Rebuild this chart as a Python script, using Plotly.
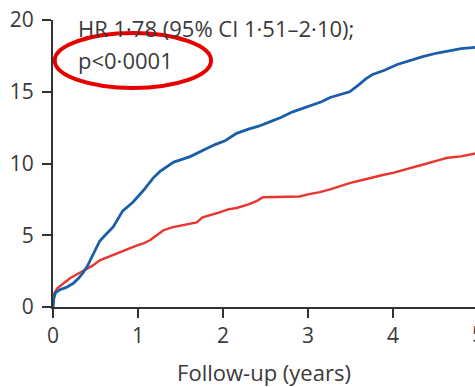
import plotly.graph_objects as go

# Cumulative incidence (%) over follow-up (years)
blue_t = [0, 0.01, 0.03, 0.08, 0.15, 0.24, 0.30, 0.35, 0.40, 0.47, 0.55, 0.63, 0.71, 0.82,
          0.94, 1.06, 1.18, 1.26, 1.34, 1.42, 1.50, 1.62, 1.76, 1.90, 2.03, 2.16, 2.30, 2.42,
          2.55, 2.68, 2.82, 2.94, 3.06, 3.16, 3.26, 3.38, 3.49, 3.60, 3.68, 3.76, 3.90, 4.05,
          4.20, 4.35, 4.52, 4.65, 4.80, 4.97]
blue_v = [0, 0.6, 1.0, 1.2, 1.35, 1.65, 2.0, 2.35, 2.8, 3.6, 4.6, 5.1, 5.6, 6.7,
          7.3, 8.1, 9.0, 9.45, 9.8, 10.1, 10.25, 10.5, 10.9, 11.3, 11.6, 12.1, 12.4, 12.6,
          12.9, 13.2, 13.6, 13.85, 14.1, 14.3, 14.6, 14.8, 15.0, 15.5, 15.9, 16.2, 16.5, 16.9,
          17.2, 17.45, 17.7, 17.85, 18.0, 18.1]

red_t = [0, 0.01, 0.05, 0.12, 0.20, 0.32, 0.40, 0.47, 0.55, 0.65, 0.75, 0.87, 0.99, 1.07,
         1.14, 1.22, 1.30, 1.40, 1.49, 1.60, 1.69, 1.76, 1.86, 1.96, 2.06, 2.16, 2.30, 2.40,
         2.47, 2.60, 2.75, 2.90, 3.00, 3.14, 3.26, 3.38, 3.50, 3.64, 3.76, 3.88, 4.00, 4.10,
         4.25, 4.40, 4.52, 4.64, 4.80, 4.97]
red_v = [0, 0.9, 1.3, 1.65, 2.0, 2.4, 2.65, 2.9, 3.25, 3.5, 3.75, 4.0, 4.3, 4.45,
         4.65, 5.0, 5.35, 5.55, 5.65, 5.75, 5.9, 6.25, 6.4, 6.6, 6.8, 6.9, 7.15, 7.4,
         7.65, 7.65, 7.65, 7.7, 7.85, 8.0, 8.2, 8.45, 8.65, 8.85, 9.05, 9.2, 9.35, 9.5,
         9.75, 10.0, 10.2, 10.4, 10.5, 10.7]

x_ticks = [0, 1, 2, 3, 4]
y_ticks = [0, 5, 10, 15, 20]

hr_text = "HR 1·78 (95% CI 1·51–2·10);"
p_text = "p<0·0001"

FONT = "Open Sans"
INK = "#3a3a3a"

fig = go.Figure()
fig.add_trace(go.Scatter(x=red_t, y=red_v, mode="lines",
                         line=dict(color="#e8352e", width=2.4), showlegend=False))
fig.add_trace(go.Scatter(x=blue_t, y=blue_v, mode="lines",
                         line=dict(color="#1a5ea8", width=2.8), showlegend=False))

fig.add_annotation(x=0.27, y=19.44, xref="x", yref="y", text=hr_text, showarrow=False,
                   xanchor="left", yanchor="middle", font=dict(family=FONT, size=22, color=INK))
fig.add_annotation(x=0.27, y=17.19, xref="x", yref="y", text=p_text, showarrow=False,
                   xanchor="left", yanchor="middle", font=dict(family=FONT, size=22, color=INK))
# partially visible last tick label at the right edge
fig.add_annotation(x=1.007, y=0, xref="paper", yref="y", yshift=-27, text="5", showarrow=False,
                   xanchor="center", yanchor="middle", font=dict(family=FONT, size=21, color=INK))

fig.add_shape(type="circle", xref="x", yref="y", x0=0.02, x1=1.86, y0=15.26, y1=19.09,
              line=dict(color="#e60000", width=4))

fig.update_layout(
    width=475, height=387,
    margin=dict(l=53, r=0, t=20, b=80),
    plot_bgcolor="white", paper_bgcolor="white",
    font=dict(family=FONT, color=INK),
)
fig.update_xaxes(range=[0, 4.965], tickvals=x_ticks, ticks="outside", ticklen=9, tickwidth=2,
                 tickcolor="#333", showline=True, linecolor="#333", linewidth=2,
                 showgrid=False, zeroline=False, tickfont=dict(size=21, color=INK),
                 title=dict(text="Follow-up (years)", font=dict(size=22, color=INK), standoff=19))
fig.update_yaxes(range=[0, 20], tickvals=y_ticks, ticks="outside", ticklen=9, tickwidth=2,
                 tickcolor="#333", showline=True, linecolor="#333", linewidth=2,
                 showgrid=False, zeroline=False, tickfont=dict(size=21, color=INK),
                 ticklabelstandoff=4)

fig.write_html("out.html")
